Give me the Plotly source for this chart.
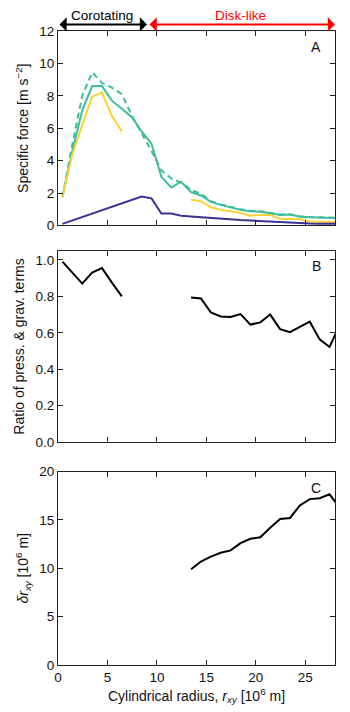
import plotly.graph_objects as go
from plotly.subplots import make_subplots

# cylindrical radius bins [10^6 m]
r_in = [0.45, 1.45, 2.45, 3.45, 4.45, 5.45, 6.45, 7.45, 8.45, 9.45, 10.45, 11.45,
        12.45, 13.45, 14.45, 15.45, 16.45, 17.45, 18.45, 19.45, 20.45, 21.45,
        22.45, 23.45, 24.45, 25.45, 26.45, 27.45, 28.45]

# panel A: specific forces [m s^-2]
teal_solid = [1.75, 4.6, 7.1, 8.6, 8.6, 7.7, 7.2, 6.7, 5.8, 5.05, 3.0, 2.35,
              2.7, 2.05, 1.85, 1.45, 1.27, 1.12, 0.96, 0.87, 0.85, 0.75,
              0.65, 0.67, 0.54, 0.5, 0.5, 0.46, 0.45]
teal_dash = [1.75, 5.0, 8.0, 9.45, 8.8, 8.5, 8.1, 6.8, 5.7, 4.6, 3.4, 2.9,
             2.65, 2.2, 1.95, 1.5, 1.3, 1.15, 1.0, 0.9, 0.88, 0.77,
             0.68, 0.69, 0.57, 0.52, 0.52, 0.48, 0.47]
r_yel1 = [0.45, 1.45, 2.45, 3.45, 4.45, 5.45, 6.45]
yellow1 = [1.75, 4.4, 6.2, 7.95, 8.2, 6.75, 5.8]
r_yel2 = [13.45, 14.45, 15.45, 16.45, 17.45, 18.45, 19.45, 20.45, 21.45,
          22.45, 23.45, 24.45, 25.45, 26.45, 27.45, 28.45]
yellow2 = [1.58, 1.5, 1.12, 0.96, 0.87, 0.77, 0.6, 0.65, 0.65, 0.4, 0.4, 0.4,
           0.25, 0.22, 0.2, 0.2]
r_pur = [0.45, 8.45, 9.45, 10.45, 11.45, 12.45, 13.45, 14.45, 15.45, 16.45,
         17.45, 18.45, 19.45, 20.45, 21.45, 22.45, 23.45, 24.45, 25.45, 26.45,
         27.45, 28.45]
purple = [0.1, 1.78, 1.67, 0.74, 0.74, 0.6, 0.55, 0.5, 0.45, 0.41, 0.37, 0.33,
          0.3, 0.27, 0.25, 0.2, 0.15, 0.13, 0.12, 0.11, 0.1, 0.1]

# panel B: ratio of pressure & gravity terms
r_b1 = [0.45, 1.45, 2.45, 3.45, 4.45, 5.45, 6.45]
ratio1 = [0.99, 0.93, 0.87, 0.93, 0.955, 0.875, 0.80]
r_b2 = [13.45, 14.45, 15.45, 16.45, 17.45, 18.45, 19.45, 20.45, 21.45, 22.45,
        23.45, 24.45, 25.45, 26.45, 27.45, 28.45]
ratio2 = [0.793, 0.788, 0.712, 0.69, 0.687, 0.703, 0.645, 0.657, 0.70, 0.62,
          0.603, 0.63, 0.661, 0.564, 0.522, 0.64]

# panel C: delta r_xy [10^6 m]
r_c = [13.45, 14.45, 15.45, 16.45, 17.45, 18.45, 19.45, 20.45, 21.45, 22.45,
       23.45, 24.45, 25.45, 26.45, 27.45, 28.45]
dr = [9.9, 10.7, 11.2, 11.6, 11.85, 12.6, 13.05, 13.2, 14.2, 15.1, 15.2, 16.5,
      17.15, 17.25, 17.65, 16.3]

TEAL = "#3fbc9c"
YEL = "#f8d232"
PUR = "#3b3190"
FONT = "Liberation Sans, Arial, sans-serif"

fig = make_subplots(rows=3, cols=1)

fig.add_trace(go.Scatter(x=r_in, y=teal_solid, mode="lines", line=dict(color=TEAL, width=2)), 1, 1)
fig.add_trace(go.Scatter(x=r_in, y=teal_dash, mode="lines",
                         line=dict(color=TEAL, width=2, dash="6px,4px")), 1, 1)
fig.add_trace(go.Scatter(x=r_yel1, y=yellow1, mode="lines", line=dict(color=YEL, width=2)), 1, 1)
fig.add_trace(go.Scatter(x=r_yel2, y=yellow2, mode="lines", line=dict(color=YEL, width=2)), 1, 1)
fig.add_trace(go.Scatter(x=r_pur, y=purple, mode="lines", line=dict(color=PUR, width=2)), 1, 1)

fig.add_trace(go.Scatter(x=r_b1, y=ratio1, mode="lines", line=dict(color="black", width=2)), 2, 1)
fig.add_trace(go.Scatter(x=r_b2, y=ratio2, mode="lines", line=dict(color="black", width=2)), 2, 1)

fig.add_trace(go.Scatter(x=r_c, y=dr, mode="lines", line=dict(color="black", width=2)), 3, 1)

axis_style = dict(showline=True, mirror="ticks", ticks="inside", ticklen=5,
                  linecolor="#222", tickcolor="#222", linewidth=1, showgrid=False,
                  zeroline=False, tickfont=dict(size=13.5, color="#111"))

for i in (1, 2, 3):
    fig.update_xaxes(range=[0, 28], tickvals=[0, 5, 10, 15, 20, 25],
                     showticklabels=(i == 3), row=i, col=1, **axis_style)

fig.update_yaxes(range=[0, 12], dtick=2, row=1, col=1, **axis_style,
                 title=dict(text="Specific force [m s<sup>−2</sup>]", standoff=7,
                            font=dict(size=14)))
fig.update_yaxes(range=[0, 1.05], tickvals=[0, 0.2, 0.4, 0.6, 0.8, 1.0], tickformat=".1f",
                 row=2, col=1, **axis_style,
                 title=dict(text="Ratio of press. &amp; grav. terms", standoff=7,
                            font=dict(size=14)))
fig.update_yaxes(range=[0, 20], dtick=5, row=3, col=1, **axis_style,
                 title=dict(text="<i>δr<sub>xy</sub></i> [10<sup>6</sup> m]", standoff=7,
                            font=dict(size=14)))
fig.update_xaxes(row=3, col=1,
                 title=dict(text="Cylindrical radius, <i>r<sub>xy</sub></i> [10<sup>6</sup> m]",
                            standoff=6, font=dict(size=14)))

fig.update_layout(
    yaxis=dict(domain=[0.6933, 1.0]),
    yaxis2=dict(domain=[0.3514, 0.6534]),
    yaxis3=dict(domain=[0.0, 0.3051]),
)

annots = [
    dict(x=9, y=1.0104, xref="x", yref="paper", ax=0, ay=0, axref="x", ayref="pixel",
         showarrow=True, arrowhead=1, arrowside="end+start", arrowsize=1.2, arrowwidth=2,
         arrowcolor="black", text=""),
    dict(x=28, y=1.0104, xref="x", yref="paper", ax=9.1, ay=0, axref="x", ayref="pixel",
         showarrow=True, arrowhead=1, arrowside="end+start", arrowsize=1.2, arrowwidth=2,
         arrowcolor="red", text=""),
    dict(x=4.45, y=1.0248, xref="x", yref="paper", yanchor="middle", text="Corotating",
         showarrow=False, font=dict(size=13.5, color="black")),
    dict(x=18.45, y=1.0248, xref="x", yref="paper", yanchor="middle", text="Disk-like",
         showarrow=False, font=dict(size=13.5, color="red")),
    dict(x=26.1, y=11, xref="x", yref="y", text="A", showarrow=False, font=dict(size=14)),
    dict(x=26.1, y=0.965, xref="x2", yref="y2", text="B", showarrow=False, font=dict(size=14)),
    dict(x=26.1, y=18.25, xref="x3", yref="y3", text="C", showarrow=False, font=dict(size=14)),
]
fig.update_layout(annotations=annots)

# the page body adds an 8 px offset, so the figure is 8 px smaller on each side
fig.update_layout(
    width=342, height=704, showlegend=False,
    margin=dict(l=50, r=15, t=23, b=47, autoexpand=False),
    paper_bgcolor="white", plot_bgcolor="white",
    font=dict(family=FONT, size=13, color="#111"),
)

fig.write_html("out.html")
